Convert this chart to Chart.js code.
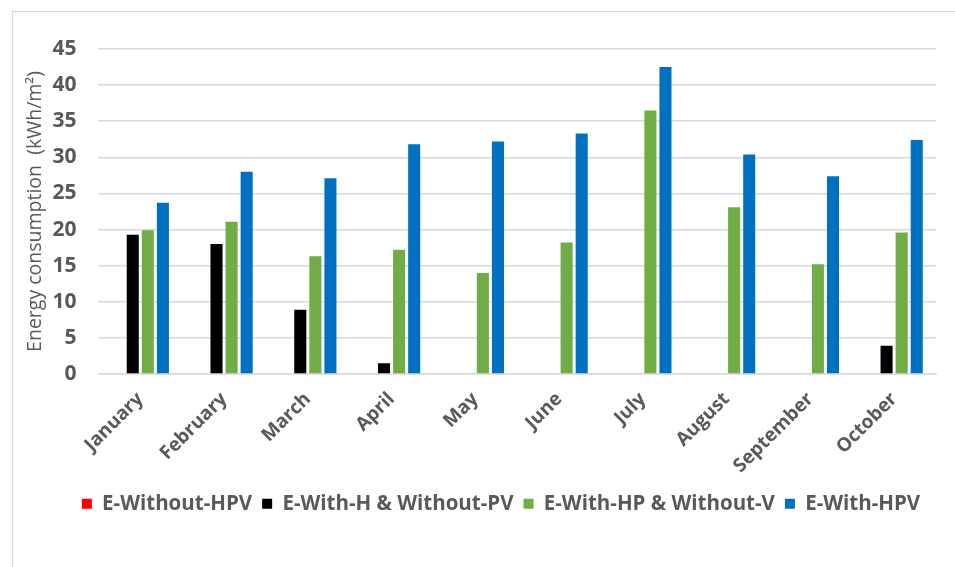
<!DOCTYPE html>
<html>
<head>
<meta charset="utf-8">
<script src="https://cdn.jsdelivr.net/npm/chart.js@4"></script>
<style>
  html, body { margin: 0; padding: 0; background: #fff; }
  #frame {
    position: absolute; left: 12px; top: 11px; width: 960px; height: 570px;
    border-left: 1px solid #d9d9d9; border-top: 1px solid #d9d9d9;
  }
  #wrap { position: absolute; left: 0; top: 0; width: 955px; height: 567px; }
</style>
</head>
<body>
<div id="frame"></div>
<div id="wrap"><canvas id="energy"></canvas></div>
<script>
const months = ["January", "February", "March", "April", "May", "June", "July", "August", "September", "October"];

// monthly energy consumption per configuration (kWh/m²)
const withoutHPV = [0, 0, 0, 0, 0, 0, 0, 0, 0, 0];
const withHWithoutPV = [19.3, 18.0, 8.9, 1.5, 0, 0, 0, 0, 0, 3.9];
const withHPWithoutV = [19.9, 21.1, 16.3, 17.2, 14.0, 18.2, 36.5, 23.1, 15.2, 19.6];
const withHPV = [23.7, 28.0, 27.1, 31.8, 32.2, 33.3, 42.5, 30.4, 27.4, 32.4];

const yTicks = [0, 5, 10, 15, 20, 25, 30, 35, 40, 45];

const grey = "#595959";
const font = "'Open Sans', 'DejaVu Sans', sans-serif";

const datasets = [
  { label: "E-Without-HPV", data: withoutHPV, backgroundColor: "#ff0000" },
  { label: "E-With-H & Without-PV", data: withHWithoutPV, backgroundColor: "#000000" },
  { label: "E-With-HP & Without-V", data: withHPWithoutV, backgroundColor: "#70ad47" },
  { label: "E-With-HPV", data: withHPV, backgroundColor: "#0070c0" },
];

// nudge the legend row a little to the right of the canvas centre
const legendShift = {
  id: "legendShift",
  afterLayout(chart) {
    const lg = chart.legend;
    lg.left += 21;
    lg.right += 21;
  },
};

new Chart(document.getElementById("energy"), {
  type: "bar",
  data: { labels: months, datasets },
  plugins: [legendShift],
  options: {
    responsive: true,
    maintainAspectRatio: false,
    animation: false,
    datasets: { bar: { barPercentage: 0.8, categoryPercentage: 0.72 } },
    layout: { padding: { left: 24, right: 19, top: 49, bottom: 43 } },
    plugins: {
      tooltip: { enabled: false },
      legend: {
        position: "bottom",
        labels: {
          boxWidth: 10,
          boxHeight: 10,
          padding: 10,
          color: grey,
          font: { family: font, size: 20.5, weight: "bold" },
        },
      },
    },
    scales: {
      x: {
        grid: { display: false },
        border: { color: "#d9d9d9", width: 1.5 },
        ticks: {
          color: grey,
          maxRotation: 45,
          minRotation: 45,
          padding: 6,
          font: { family: font, size: 19, weight: "bold" },
        },
      },
      y: {
        min: 0,
        max: 45,
        afterBuildTicks: (axis) => { axis.ticks = yTicks.map((v) => ({ value: v })); },
        grid: { color: "#d9d9d9", lineWidth: 1.5, drawTicks: false },
        border: { display: false },
        ticks: {
          color: grey,
          padding: 22,
          font: { family: font, size: 21, weight: "bold" },
        },
        title: {
          display: true,
          text: "Energy consumption  (kWh/m²)",
          color: grey,
          padding: { top: 0, bottom: -17 },
          font: { family: font, size: 19.5 },
        },
      },
    },
  },
});
</script>
</body>
</html>
